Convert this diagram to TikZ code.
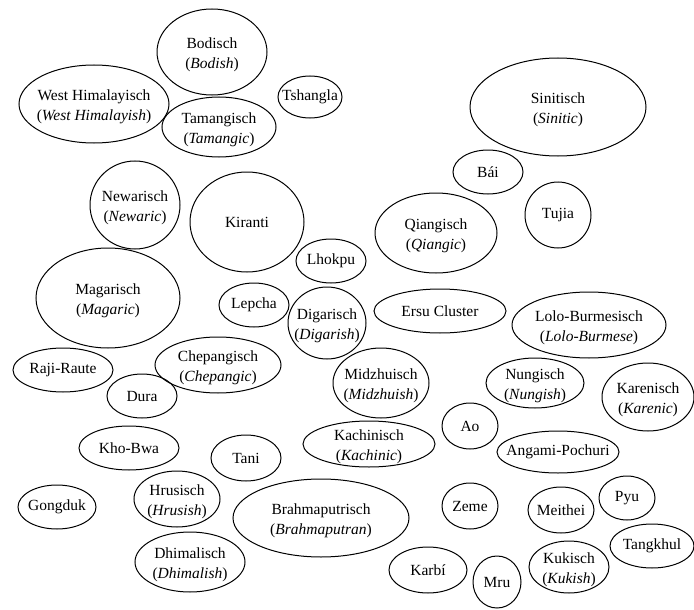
\documentclass[tikz,border=0pt]{standalone}
\usepackage{fontspec}
\setmainfont{Liberation Serif}
\usetikzlibrary{shapes.geometric}

\begin{document}
\begin{tikzpicture}[x=1pt, y=-1pt,
    every node/.style={font=\fontsize{15.5}{20}\selectfont},
    lang/.style={draw, ellipse, inner sep=0pt, line width=1pt},
    every label/.style={align=center, inner sep=0pt},
    solo/.style={label=center:{#1}},
    duo/.style 2 args={label={[yshift=-3pt]center:{#1\\(\textit{#2})}}}]

    \useasboundingbox (0,0) rectangle (694,610);

    % Top row
    \node (bodisch) at (212,52) [lang, minimum width=110pt, minimum height=86pt, duo={Bodisch}{Bodish}] {};
    \node (westhim) at (94,104) [lang, minimum width=150pt, minimum height=78pt, duo={West Himalayisch}{West Himalayish}] {};
    \node (tshangla) at (310,97) [lang, minimum width=64pt, minimum height=42pt, solo={Tshangla}] {};
    \node (tamang) at (219,127) [lang, minimum width=114pt, minimum height=60pt, duo={Tamangisch}{Tamangic}] {};
    \node (sinit) at (558,107) [lang, minimum width=176pt, minimum height=98pt, duo={Sinitisch}{Sinitic}] {};
    \node (bai) at (488,172) [lang, minimum width=70pt, minimum height=44pt, solo={Bái}] {};
    \node (tujia) at (558,215) [lang, minimum width=66pt, minimum height=66pt, solo={Tujia}] {};

    % Middle
    \node (newar) at (135,205) [lang, minimum width=90pt, minimum height=88pt, duo={Newarisch}{Newaric}] {};
    \node (kiranti) at (247,222) [lang, minimum width=114pt, minimum height=100pt, solo={Kiranti}] {};
    \node (qiang) at (436,233) [lang, minimum width=122pt, minimum height=80pt, duo={Qiangisch}{Qiangic}] {};
    \node (lhokpu) at (331,261) [lang, minimum width=70pt, minimum height=44pt, solo={Lhokpu}] {};
    \node (magar) at (108,298) [lang, minimum width=144pt, minimum height=100pt, duo={Magarisch}{Magaric}] {};
    \node (lepcha) at (254,305) [lang, minimum width=70pt, minimum height=44pt, solo={Lepcha}] {};
    \node (digar) at (327,323) [lang, minimum width=78pt, minimum height=72pt, duo={Digarisch}{Digarish}] {};
    \node (ersu) at (440,311) [lang, minimum width=132pt, minimum height=44pt, solo={Ersu Cluster}] {};
    \node (lolo) at (589,325) [lang, minimum width=154pt, minimum height=66pt, duo={Lolo-Burmesisch}{Lolo-Burmese}] {};
    \node (raji) at (63,370) [lang, minimum width=100pt, minimum height=44pt, solo={Raji-Raute}] {};
    \node (chepang) at (218,365) [lang, minimum width=126pt, minimum height=56pt, duo={Chepangisch}{Chepangic}] {};
    \node (dura) at (142,396) [lang, minimum width=70pt, minimum height=44pt, solo={Dura}] {};
    \node (midzhu) at (381,383) [lang, minimum width=96pt, minimum height=70pt, duo={Midzhuisch}{Midzhuish}] {};
    \node (nung) at (535,383) [lang, minimum width=98pt, minimum height=50pt, duo={Nungisch}{Nungish}] {};
    \node (karen) at (648,397) [lang, minimum width=92pt, minimum height=68pt, duo={Karenisch}{Karenic}] {};

    % Bottom
    \node (ao) at (470,426) [lang, minimum width=56pt, minimum height=46pt, solo={Ao}] {};
    \node (khobwa) at (129,448) [lang, minimum width=100pt, minimum height=44pt, solo={Kho-Bwa}] {};
    \node (kachin) at (369,444) [lang, minimum width=132pt, minimum height=46pt, duo={Kachinisch}{Kachinic}] {};
    \node (tani) at (246,458) [lang, minimum width=70pt, minimum height=46pt, solo={Tani}] {};
    \node (angami) at (558,452) [lang, minimum width=122pt, minimum height=42pt, solo={Angami-Pochuri}] {};
    \node (gongduk) at (57,507) [lang, minimum width=78pt, minimum height=44pt, solo={Gongduk}] {};
    \node (hrus) at (177,499) [lang, minimum width=86pt, minimum height=56pt, duo={Hrusisch}{Hrusish}] {};
    \node (brahma) at (321,518) [lang, minimum width=176pt, minimum height=78pt, duo={Brahmaputrisch}{Brahmaputran}] {};
    \node (zeme) at (470,506) [lang, minimum width=56pt, minimum height=46pt, solo={Zeme}] {};
    \node (meithei) at (561,510) [lang, minimum width=66pt, minimum height=46pt, solo={Meithei}] {};
    \node (pyu) at (627,498) [lang, minimum width=56pt, minimum height=44pt, solo={Pyu}] {};
    \node (tangkhul) at (652,546) [lang, minimum width=84pt, minimum height=44pt, solo={Tangkhul}] {};
    \node (dhimal) at (190,562) [lang, minimum width=110pt, minimum height=60pt, duo={Dhimalisch}{Dhimalish}] {};
    \node (karbi) at (428,570) [lang, minimum width=78pt, minimum height=46pt, solo={Karbí}] {};
    \node (mru) at (497,582) [lang, minimum width=48pt, minimum height=52pt, solo={Mru}] {};
    \node (kukisch) at (569,567) [lang, minimum width=80pt, minimum height=52pt, duo={Kukisch}{Kukish}] {};

\end{tikzpicture}
\end{document}
